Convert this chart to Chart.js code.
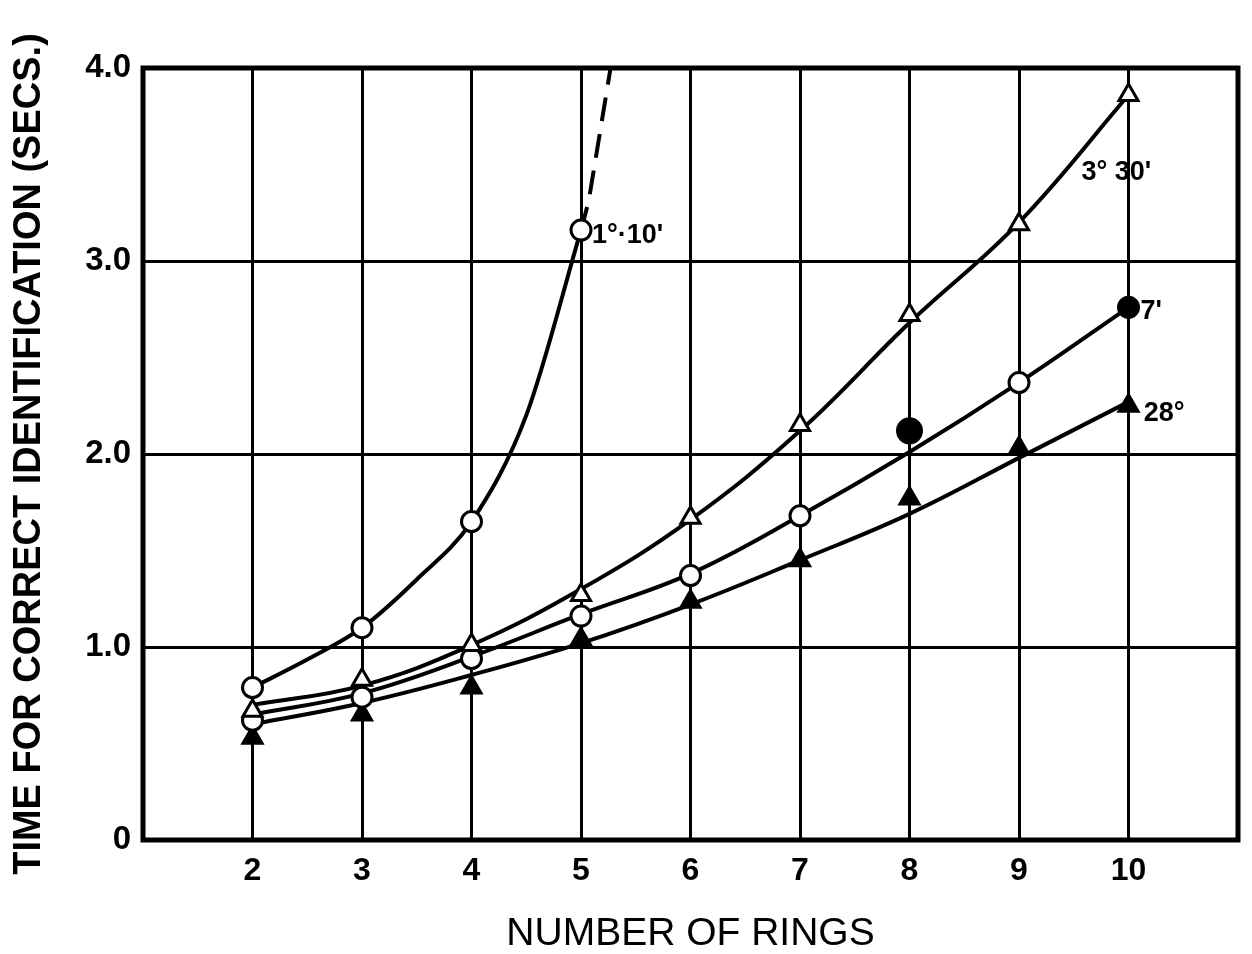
<!DOCTYPE html>
<html>
<head>
<meta charset="utf-8">
<script src="https://cdn.jsdelivr.net/npm/chart.js@4.4.1/dist/chart.umd.min.js"></script>
<style>
  html, body { margin: 0; padding: 0; background: #fff; }
  #wrap { width: 1252px; height: 954px; }
</style>
</head>
<body>
<div id="wrap"><canvas id="c" width="1252" height="954"></canvas></div>
<script>
// ── data ──────────────────────────────────────────────────────────────────
const rings = [2, 3, 4, 5, 6, 7, 8, 9, 10];
const xTickLabels = ["2", "3", "4", "5", "6", "7", "8", "9", "10"];
const yTickLabels = ["0", "1.0", "2.0", "3.0", "4.0"];

// measured points
const pts110 = [0.79, 1.10, 1.65, 3.16];                 // 1°10', n = 2..5
const pts330 = [0.67, 0.83, 1.01, 1.27, 1.67, 2.15, 2.72, 3.19, 3.86];
const pts7   = [0.62, 0.74, 0.94, 1.16, 1.37, 1.68, 2.12, 2.37, 2.76];
const pts28  = [0.53, 0.65, 0.79, 1.04, 1.235, 1.45, 1.77, 2.03, 2.25];
const solid7 = [false, false, false, false, false, false, true, false, true];

// hand-drawn curves (read where the curve crosses each x)
const curve110X = [2, 2.5, 3, 3.5, 4, 4.5, 5];
const curve110Y = [0.79, 0.935, 1.10, 1.35, 1.65, 2.20, 3.16];
const dash110X  = [5, 5.07, 5.27];
const dash110Y  = [3.16, 3.31, 4.0];
const curve330 = [0.70, 0.80, 1.01, 1.30, 1.66, 2.12, 2.68, 3.20, 3.86];
const curve7   = [0.65, 0.76, 0.95, 1.17, 1.38, 1.68, 2.01, 2.37, 2.76];
const curve28  = [0.60, 0.71, 0.855, 1.02, 1.22, 1.45, 1.69, 1.98, 2.27];

// curve labels, anchored in data space (left/middle of text)
const curveNames = ["1°·10'", "3° 30'", "7'", "28°"];
const nameX = [5.1, 9.57, 10.11, 10.14];
const nameY = [3.13, 3.46, 2.74, 2.21];

const xy = (xs, ys) => xs.map((x, i) => ({ x, y: ys[i] }));

const markerBase = { showLine: false, pointRadius: 10, pointBorderWidth: 3, pointBorderColor: "#000" };
const curveBase  = { borderColor: "#000", borderWidth: 4, pointRadius: 0, tension: 0.4, fill: false };

// frame round the plot
const frame = {
  id: "frame",
  afterDatasetsDraw(chart) {
    const { ctx, chartArea: a } = chart;
    ctx.save();
    ctx.strokeStyle = "#000";
    ctx.lineWidth = 5;
    ctx.strokeRect(a.left, a.top, a.right - a.left, a.bottom - a.top);
    ctx.restore();
  },
};

// curve names next to the lines
const names = {
  id: "names",
  afterDatasetsDraw(chart) {
    const { ctx, scales } = chart;
    ctx.save();
    ctx.fillStyle = "#000";
    ctx.font = "bold 27px 'Liberation Sans', Arial, sans-serif";
    ctx.textAlign = "left";
    ctx.textBaseline = "middle";
    curveNames.forEach((t, i) => {
      ctx.fillText(t, scales.x.getPixelForValue(nameX[i]), scales.y.getPixelForValue(nameY[i]));
    });
    ctx.restore();
  },
};

new Chart(document.getElementById("c"), {
  type: "line",
  data: {
    datasets: [
      { ...markerBase, data: xy(rings.slice(0, 4), pts110), pointStyle: "circle", pointBackgroundColor: "#fff" },
      { ...markerBase, data: xy(rings, pts330), pointStyle: "triangle", pointBackgroundColor: "#fff", pointRadius: 11 },
      { ...markerBase, data: xy(rings, pts7), pointStyle: "circle",
        pointBackgroundColor: solid7.map((s) => (s ? "#000" : "#fff")),
        pointRadius: solid7.map((s, i) => (s && i === 6 ? 12 : 10)) },
      { ...markerBase, data: xy(rings, pts28), pointStyle: "triangle", pointBackgroundColor: "#000", pointRadius: 11 },

      { ...curveBase, data: xy(curve110X, curve110Y), cubicInterpolationMode: "monotone" },
      { ...curveBase, data: xy(dash110X, dash110Y), borderDash: [24, 13], tension: 0 },
      { ...curveBase, data: xy(rings, curve330) },
      { ...curveBase, data: xy(rings, curve7) },
      { ...curveBase, data: xy(rings, curve28) },
    ],
  },
  options: {
    responsive: false,
    animation: false,
    layout: { padding: { top: 68, right: 9, left: 0, bottom: 0 } },
    plugins: { legend: { display: false }, tooltip: { enabled: false } },
    scales: {
      x: {
        type: "linear",
        min: 1,
        max: 11,
        border: { display: false },
        grid: { color: "#000", lineWidth: 3, drawTicks: false },
        ticks: {
          stepSize: 1,
          padding: 12,
          color: "#000",
          font: { family: "'Liberation Sans', Arial, sans-serif", size: 32, weight: "bold" },
          callback: (v) => xTickLabels[rings.indexOf(v)] ?? "",
        },
        title: {
          display: true,
          text: "NUMBER OF RINGS",
          color: "#000",
          padding: { top: 0, bottom: 0 },
          font: { family: "'Liberation Sans', Arial, sans-serif", size: 39, lineHeight: 1.0 },
        },
        afterFit: (s) => { s.height = 114; },
      },
      y: {
        min: 0,
        max: 4,
        border: { display: false },
        grid: { color: "#000", lineWidth: 3, drawTicks: false },
        ticks: {
          stepSize: 1,
          padding: 12,
          color: "#000",
          font: { family: "'Liberation Sans', Arial, sans-serif", size: 33, weight: "bold" },
          callback: (v) => yTickLabels[v] ?? "",
        },
        title: {
          display: true,
          text: "TIME FOR CORRECT IDENTIFICATION (SECS.)",
          color: "#000",
          padding: { top: 7, bottom: 0 },
          font: { family: "'Liberation Sans', Arial, sans-serif", size: 38, weight: "bold", lineHeight: 1.2 },
        },
        afterFit: (s) => { s.width = 143; },
      },
    },
  },
  plugins: [frame, names],
});
</script>
</body>
</html>
